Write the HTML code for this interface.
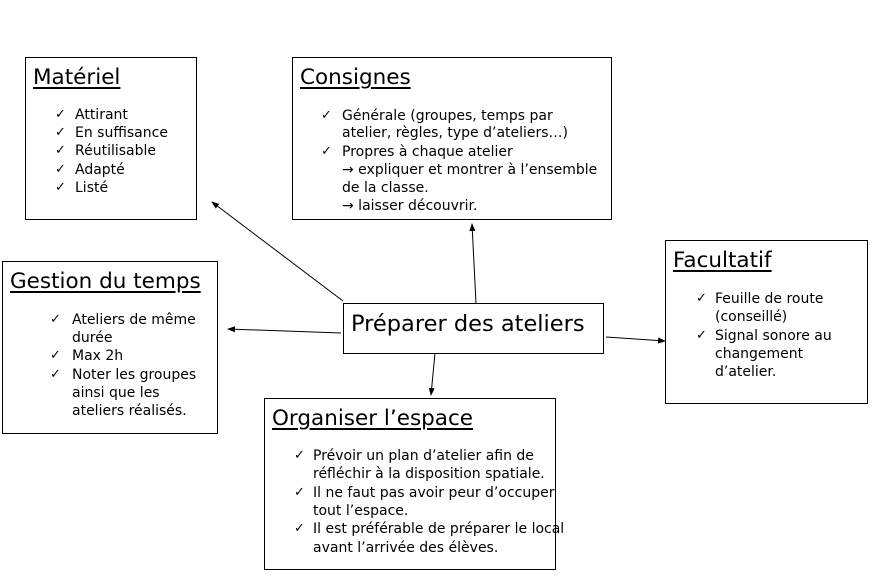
<!DOCTYPE html>
<html><head><meta charset="utf-8"><style>
body{margin:0;width:890px;height:575px;background:#fff;position:relative;overflow:hidden;font-family:"DejaVu Sans","Liberation Sans",sans-serif;color:#000}
.b{position:absolute;border:1px solid #000;box-sizing:border-box;background:#fff}
.t{position:absolute;font-size:21.5px;text-decoration:underline;white-space:nowrap;line-height:24px;text-underline-offset:3px;margin-top:1px}
.l{position:absolute;font-size:14px;white-space:nowrap;line-height:16px;margin-top:2px}
.c{position:absolute;font-size:13px;line-height:16px;margin-top:2px}
</style></head><body>
<svg width="890" height="575" style="position:absolute;left:0;top:0">
<defs><marker id="a" markerWidth="8" markerHeight="8" refX="7" refY="4" orient="auto" markerUnits="userSpaceOnUse"><path d="M0,1 L8,4 L0,7z" fill="#000"/></marker></defs>
<g stroke="#000" stroke-width="1" fill="none">
<line x1="343" y1="301" x2="212" y2="202" marker-end="url(#a)"/>
<line x1="476" y1="303" x2="472" y2="224" marker-end="url(#a)"/>
<line x1="341" y1="333" x2="228" y2="329" marker-end="url(#a)"/>
<line x1="606" y1="337" x2="665" y2="341" marker-end="url(#a)"/>
<line x1="435" y1="353" x2="431" y2="395" marker-end="url(#a)"/>
</g></svg>

<div class="b" style="left:25px;top:57px;width:172px;height:163px"></div>
<div class="t" style="left:33px;top:65px">Matériel</div>
<div class="c" style="left:55px;top:105px">✓</div><div class="l" style="left:75px;top:105px">Attirant</div>
<div class="c" style="left:55px;top:123px">✓</div><div class="l" style="left:75px;top:123px">En suffisance</div>
<div class="c" style="left:55px;top:141px">✓</div><div class="l" style="left:75px;top:141px">Réutilisable</div>
<div class="c" style="left:55px;top:160px">✓</div><div class="l" style="left:75px;top:160px">Adapté</div>
<div class="c" style="left:55px;top:178px">✓</div><div class="l" style="left:75px;top:178px">Listé</div>

<div class="b" style="left:292px;top:57px;width:320px;height:163px"></div>
<div class="t" style="left:300px;top:65px">Consignes</div>
<div class="c" style="left:321px;top:106px">✓</div><div class="l" style="left:342px;top:106px">Générale (groupes, temps par</div>
<div class="l" style="left:342px;top:123px">atelier, règles, type d’ateliers…)</div>
<div class="c" style="left:321px;top:142px">✓</div><div class="l" style="left:342px;top:142px">Propres à chaque atelier</div>
<div class="l" style="left:342px;top:160px">→ expliquer et montrer à l’ensemble</div>
<div class="l" style="left:342px;top:178px">de la classe.</div>
<div class="l" style="left:342px;top:196px">→ laisser découvrir.</div>

<div class="b" style="left:2px;top:261px;width:216px;height:173px"></div>
<div class="t" style="left:10px;top:269px">Gestion du temps</div>
<div class="c" style="left:50px;top:310px">✓</div><div class="l" style="left:72px;top:310px">Ateliers de même</div>
<div class="l" style="left:72px;top:328px">durée</div>
<div class="c" style="left:50px;top:346px">✓</div><div class="l" style="left:72px;top:346px">Max 2h</div>
<div class="c" style="left:50px;top:365px">✓</div><div class="l" style="left:72px;top:365px">Noter les groupes</div>
<div class="l" style="left:72px;top:383px">ainsi que les</div>
<div class="l" style="left:72px;top:401px">ateliers réalisés.</div>

<div class="b" style="left:665px;top:240px;width:203px;height:164px"></div>
<div class="t" style="left:673px;top:248px">Facultatif</div>
<div class="c" style="left:696px;top:289px">✓</div><div class="l" style="left:715px;top:289px">Feuille de route</div>
<div class="l" style="left:715px;top:307px">(conseillé)</div>
<div class="c" style="left:696px;top:326px">✓</div><div class="l" style="left:715px;top:326px">Signal sonore au</div>
<div class="l" style="left:715px;top:344px">changement</div>
<div class="l" style="left:715px;top:362px">d’atelier.</div>

<div class="b" style="left:264px;top:398px;width:292px;height:172px"></div>
<div class="t" style="left:272px;top:406px">Organiser l’espace</div>
<div class="c" style="left:294px;top:446px">✓</div><div class="l" style="left:313px;top:446px">Prévoir un plan d’atelier afin de</div>
<div class="l" style="left:313px;top:464px">réfléchir à la disposition spatiale.</div>
<div class="c" style="left:294px;top:483px">✓</div><div class="l" style="left:313px;top:483px">Il ne faut pas avoir peur d’occuper</div>
<div class="l" style="left:313px;top:501px">tout l’espace.</div>
<div class="c" style="left:294px;top:519px">✓</div><div class="l" style="left:313px;top:519px">Il est préférable de préparer le local</div>
<div class="l" style="left:313px;top:538px">avant l’arrivée des élèves.</div>

<div class="b" style="left:343px;top:303px;width:261px;height:51px"></div>
<div class="t" style="left:351px;top:311px;text-decoration:none;font-size:22.5px">Préparer des ateliers</div>
</body></html>
